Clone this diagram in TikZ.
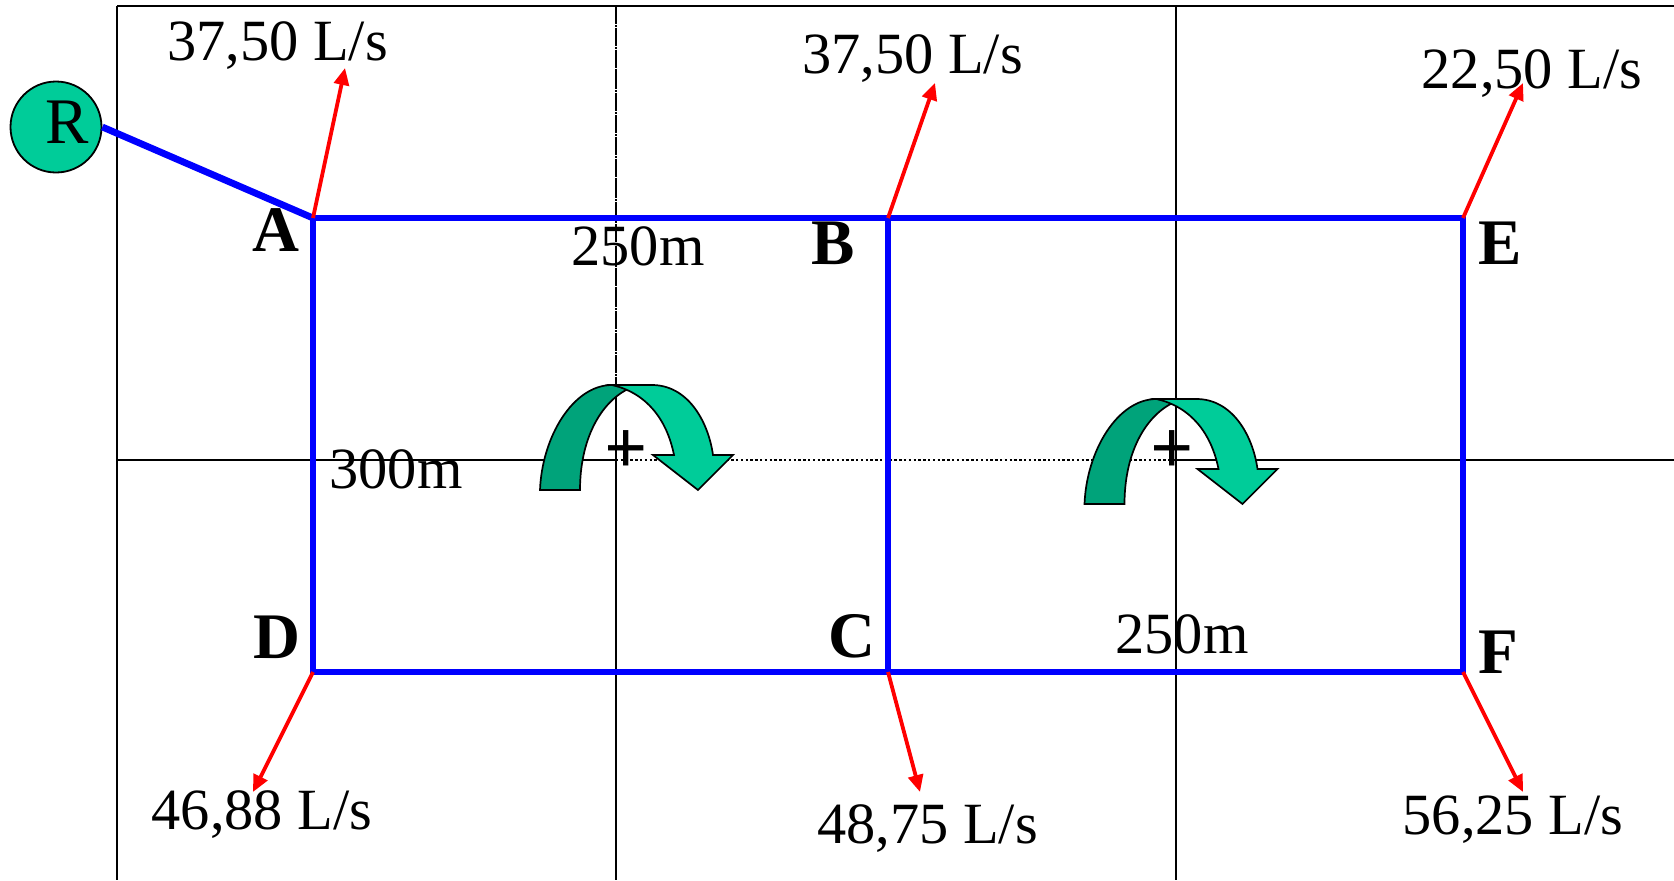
\documentclass[tikz,border=0pt]{standalone}
\usepackage{fontspec}
\setmainfont{Liberation Serif}
\usetikzlibrary{arrows.meta}
\definecolor{arrowlight}{RGB}{0,204,153}
\definecolor{arrowdark}{RGB}{0,163,122}
\tikzset{
 x=0.5pt,y=-0.5pt,
 gridline/.style={black,line width=0.7pt},
 pipe/.style={blue,line width=3.4pt},
 demand/.style={red,line width=1.9pt,-{Triangle[length=8.5pt,width=7.5pt]}},
 lbl/.style={font=\fontsize{29.2}{29.2}\selectfont,inner sep=0pt,text=black},
 plusmark/.style={font=\fontsize{38}{38}\selectfont\bfseries,inner sep=0pt,text=black},
 junc/.style={font=\fontsize{32.5}{32.5}\selectfont\bfseries,inner sep=0pt,text=black},
 pt/.style={inner sep=0pt,minimum size=0pt},
 front/.style={fill=arrowlight,draw=black,line width=0.85pt,line join=miter},
 back/.style={fill=arrowdark,draw=black,line width=0.85pt,line join=miter},
}
\newcommand{\turnarrow}[2]{%
 \begin{scope}[shift={(#1,#2)}]
  \path[back] (0,105) .. controls (2,52) and (33,0) .. (72,0)
    .. controls (78,0) and (84,2) .. (88,4)
    .. controls (60,18) and (40,55) .. (40,105) -- cycle;
  \path[front] (72,0) -- (112,0) .. controls (147,0) and (168,35) .. (173,70)
    -- (193,70) -- (158,105) -- (113,70) -- (134,70)
    .. controls (127,35) and (107,8) .. (72,0) -- cycle;
 \end{scope}}
\begin{document}
\begin{tikzpicture}
\useasboundingbox (0,0) rectangle (1674,880);
\fill[white] (0,0) rectangle (1674,880);
\coordinate (gTL) at (117,6); \coordinate (gTR) at (1674,6);
\coordinate (gBL) at (117,880);
\coordinate (v1t) at (616,6); \coordinate (v1m) at (616,385); \coordinate (v1b) at (616,880);
\coordinate (v2t) at (1176,6); \coordinate (v2b) at (1176,880);
\coordinate (hL) at (117,460); \coordinate (hM) at (616,460); \coordinate (hN) at (1176,460); \coordinate (hR) at (1674,460);
\draw[gridline] (gTL) -- (gTR);
\draw[gridline] (gTL) -- (gBL);
\draw[gridline,dash pattern=on 9pt off 0.5pt on 1pt off 0.4pt] (v1t) -- (v1m);
\draw[gridline] (v1m) -- (v1b);
\draw[gridline] (v2t) -- (v2b);
\draw[gridline] (hL) -- (hM);
\draw[gridline,dash pattern=on 1.2pt off 1.2pt] (hM) -- (hN);
\draw[gridline] (hN) -- (hR);

\node[pt] (A) at (313,218) {};
\node[pt] (B) at (888,218) {};
\node[pt] (E) at (1463,218) {};
\node[pt] (D) at (313,672) {};
\node[pt] (C) at (888,672) {};
\node[pt] (F) at (1463,672) {};
\node[circle,draw=black,fill=arrowlight,line width=0.9pt,minimum size=45.5pt,inner sep=0pt] (R) at (56,127) {};
\node[inner sep=0pt,font=\fontsize{32.5}{32.5}\selectfont] (Rt) at (67,122) {R};

\coordinate (qA) at (345,68);
\coordinate (qB) at (935,83);
\coordinate (qE) at (1523,83);
\coordinate (qD) at (253,792);
\coordinate (qC) at (920,792);
\coordinate (qF) at (1523,792);
\draw[pipe] (R.east) -- (A.center);
\draw[pipe,line join=miter] (A.center) -- (E.center) -- (F.center) -- (D.center) -- cycle;
\draw[pipe] (B.center) -- (C.center);
\foreach \a/\b in {A/qA,B/qB,E/qE,D/qD,C/qC,F/qF} \draw[demand] (\a.center) -- (\b);

\turnarrow{540}{385}
\turnarrow{1084.5}{399}

\node[lbl] (t1) at (277.5,46) {37,50 L/s};
\node[lbl] (t2) at (912.5,59) {37,50 L/s};
\node[lbl] (t3) at (1532,74) {22,50 L/s};
\node[lbl] (t4) at (262,815) {46,88 L/s};
\node[lbl] (t5) at (927.5,829) {48,75 L/s};
\node[lbl] (t6) at (1513,820) {56,25 L/s};
\node[lbl] (l1) at (638,246) {250m};
\node[lbl] (l2) at (396,469) {300m};
\node[lbl] (l3) at (1182,634) {250m};
\node[plusmark] (p1) at (626,452) {+};
\node[plusmark] (p2) at (1172,452) {+};
\node[junc] (nA) at (276,230) {A};
\node[junc] (nB) at (833,243) {B};
\node[junc] (nE) at (1500,243) {E};
\node[junc] (nD) at (276.5,637) {D};
\node[junc] (nC) at (852,636) {C};
\node[junc] (nF) at (1498,652) {F};
\end{tikzpicture}
\end{document}
